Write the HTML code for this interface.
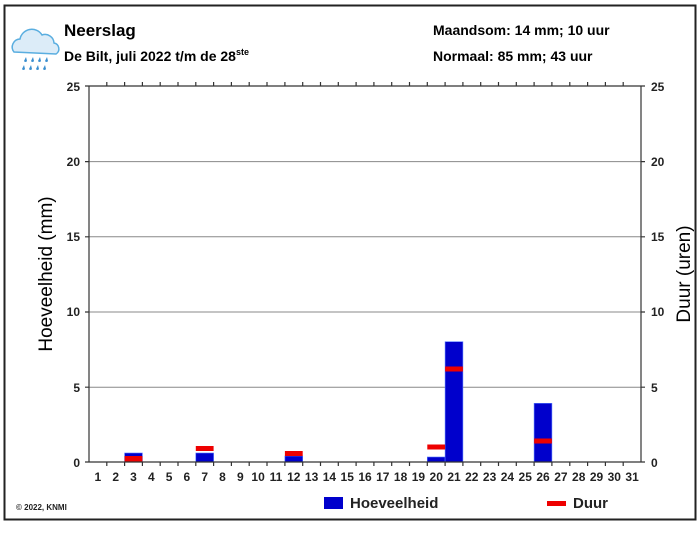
<!DOCTYPE html><html><head><meta charset="utf-8"><style>body{margin:0;background:#fff}svg{display:block;font-family:"Liberation Sans",Arial,sans-serif}</style></head><body>
<svg width="700" height="541" viewBox="0 0 700 541" xmlns="http://www.w3.org/2000/svg">
<rect x="4.5" y="5.5" width="691" height="514" fill="#fff" stroke="#222" stroke-width="2"/>
<g>
<path d="M14 52 a8 8 0 0 1 6-13 a12 12 0 0 1 22-4 a9 9 0 0 1 12 8 a6 6 0 0 1 2 11 z" fill="#dcecf8" stroke="#5aaee0" stroke-width="1.5"/>
<g fill="#3a8fd0"><path d="M26 57l-2 4a1.6 1.6 0 0 0 3 0z"/><path d="M33 57l-2 4a1.6 1.6 0 0 0 3 0z"/><path d="M40 57l-2 4a1.6 1.6 0 0 0 3 0z"/><path d="M47 57l-2 4a1.6 1.6 0 0 0 3 0z"/><path d="M24 65l-2 4a1.6 1.6 0 0 0 3 0z"/><path d="M31 65l-2 4a1.6 1.6 0 0 0 3 0z"/><path d="M38 65l-2 4a1.6 1.6 0 0 0 3 0z"/><path d="M45 65l-2 4a1.6 1.6 0 0 0 3 0z"/></g>
</g>
<g font-weight="bold" fill="#000">
<text x="64" y="36" font-size="17">Neerslag</text>
<text x="64" y="61" font-size="14">De Bilt, juli 2022 t/m de 28<tspan font-size="9" dy="-6">ste</tspan></text>
<text x="433" y="35" font-size="14">Maandsom: 14 mm; 10 uur</text>
<text x="433" y="61" font-size="14">Normaal: 85 mm; 43 uur</text>
</g>
<g stroke="#888" stroke-width="1">
<line x1="89" y1="161.6" x2="641" y2="161.6"/><line x1="89" y1="236.8" x2="641" y2="236.8"/><line x1="89" y1="312" x2="641" y2="312"/><line x1="89" y1="387.2" x2="641" y2="387.2"/>
</g>
<g fill="#0000cc" stroke="#5577ff" stroke-width="0.6">
<rect x="124.6" y="453" width="17.8" height="9"/>
<rect x="195.8" y="453" width="17.8" height="9"/>
<rect x="284.9" y="456" width="17.8" height="6"/>
<rect x="427.3" y="457" width="17.8" height="5"/>
<rect x="445.1" y="341.7" width="17.8" height="120.3"/>
<rect x="534.1" y="403.3" width="17.8" height="58.7"/>
</g>
<g fill="#e00">
<rect x="124.6" y="456" width="17.8" height="6"/>
<rect x="195.8" y="446" width="17.8" height="5"/>
<rect x="284.9" y="451" width="17.8" height="5"/>
<rect x="427.3" y="444.5" width="17.8" height="5"/>
<rect x="445.1" y="366.5" width="17.8" height="5"/>
<rect x="534.1" y="438.5" width="17.8" height="5"/>
</g>
<g stroke="#333" stroke-width="1.2" fill="none">
<line x1="89" y1="86" x2="89" y2="462"/><line x1="641" y1="86" x2="641" y2="462"/>
<line x1="85" y1="462" x2="645" y2="462"/>
<line x1="85" y1="86" x2="645" y2="86"/>
<path d="M85 161.6h4M85 236.8h4M85 312h4M85 387.2h4M641 161.6h4M641 236.8h4M641 312h4M641 387.2h4"/>
<path d="M106.8 462v4M124.6 462v4M142.4 462v4M160.2 462v4M178 462v4M195.8 462v4M213.6 462v4M231.4 462v4M249.2 462v4M267 462v4M284.9 462v4M302.7 462v4M320.5 462v4M338.3 462v4M356.1 462v4M373.9 462v4M391.7 462v4M409.5 462v4M427.3 462v4M445.1 462v4M462.9 462v4M480.7 462v4M498.5 462v4M516.3 462v4M534.1 462v4M551.9 462v4M569.8 462v4M587.6 462v4M605.4 462v4M623.2 462v4"/>
<path d="M106.8 86v-4M124.6 86v-4M142.4 86v-4M160.2 86v-4M178 86v-4M195.8 86v-4M213.6 86v-4M231.4 86v-4M249.2 86v-4M267 86v-4M284.9 86v-4M302.7 86v-4M320.5 86v-4M338.3 86v-4M356.1 86v-4M373.9 86v-4M391.7 86v-4M409.5 86v-4M427.3 86v-4M445.1 86v-4M462.9 86v-4M480.7 86v-4M498.5 86v-4M516.3 86v-4M534.1 86v-4M551.9 86v-4M569.8 86v-4M587.6 86v-4M605.4 86v-4M623.2 86v-4"/>
</g>
<g font-size="12" font-weight="bold" fill="#222" text-anchor="end">
<text x="80" y="91">25</text><text x="80" y="166">20</text><text x="80" y="241">15</text><text x="80" y="316">10</text><text x="80" y="392">5</text><text x="80" y="467">0</text>
</g>
<g font-size="12" font-weight="bold" fill="#222">
<text x="651" y="91">25</text><text x="651" y="166">20</text><text x="651" y="241">15</text><text x="651" y="316">10</text><text x="651" y="392">5</text><text x="651" y="467">0</text>
</g>
<g font-size="12" font-weight="bold" fill="#222" text-anchor="middle">
<text x="97.9" y="481">1</text><text x="115.7" y="481">2</text><text x="133.5" y="481">3</text><text x="151.3" y="481">4</text><text x="169.1" y="481">5</text><text x="186.9" y="481">6</text><text x="204.7" y="481">7</text><text x="222.5" y="481">8</text><text x="240.3" y="481">9</text><text x="258.1" y="481">10</text><text x="276" y="481">11</text><text x="293.8" y="481">12</text><text x="311.6" y="481">13</text><text x="329.4" y="481">14</text><text x="347.2" y="481">15</text><text x="365" y="481">16</text><text x="382.8" y="481">17</text><text x="400.6" y="481">18</text><text x="418.4" y="481">19</text><text x="436.2" y="481">20</text><text x="454" y="481">21</text><text x="471.8" y="481">22</text><text x="489.6" y="481">23</text><text x="507.4" y="481">24</text><text x="525.2" y="481">25</text><text x="543" y="481">26</text><text x="560.9" y="481">27</text><text x="578.7" y="481">28</text><text x="596.5" y="481">29</text><text x="614.3" y="481">30</text><text x="632.1" y="481">31</text>
</g>
<text transform="translate(52 274) rotate(-90)" font-size="19" text-anchor="middle" fill="#000">Hoeveelheid (mm)</text>
<text transform="translate(690 274) rotate(-90)" font-size="19" text-anchor="middle" fill="#000">Duur (uren)</text>
<text x="16" y="510" font-size="8" font-weight="bold" fill="#222">© 2022, KNMI</text>
<rect x="324" y="497" width="19" height="12" fill="#0000cc"/>
<text x="350" y="508" font-size="15" font-weight="bold" fill="#222">Hoeveelheid</text>
<rect x="547" y="501" width="19" height="5" fill="#e00"/>
<text x="573" y="508" font-size="15" font-weight="bold" fill="#222">Duur</text>
</svg>
</body></html>
